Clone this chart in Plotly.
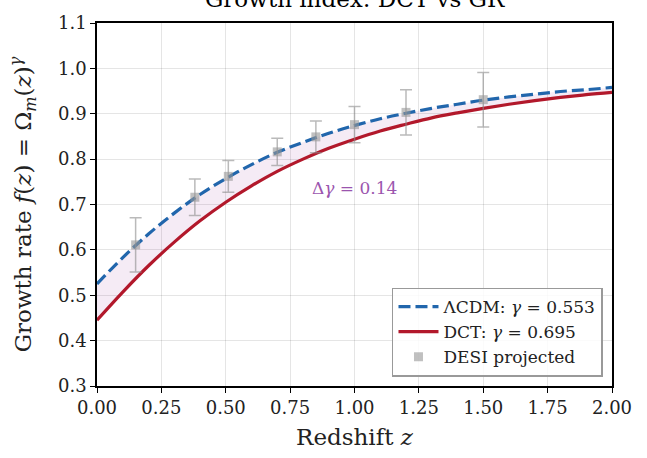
import plotly.graph_objects as go

# Redshift grid along the curves
z_curve = [0.0, 0.1, 0.2, 0.3, 0.4, 0.5, 0.6, 0.7, 0.8, 0.9, 1.0,
           1.1, 1.2, 1.3, 1.4, 1.5, 1.6, 1.7, 1.8, 1.9, 2.0]
# LambdaCDM growth rate, gamma = 0.553
f_lcdm = [0.525, 0.583, 0.635, 0.681, 0.722, 0.757, 0.788, 0.815, 0.837, 0.857, 0.874,
          0.889, 0.901, 0.912, 0.921, 0.930, 0.937, 0.943, 0.949, 0.953, 0.958]
# DCT growth rate, gamma = 0.695
f_dct = [0.445, 0.507, 0.565, 0.617, 0.664, 0.705, 0.741, 0.773, 0.800, 0.824, 0.844,
         0.862, 0.877, 0.891, 0.902, 0.912, 0.921, 0.929, 0.936, 0.942, 0.947]

# DESI projected measurements
z_desi = [0.15, 0.38, 0.51, 0.70, 0.85, 1.00, 1.20, 1.50]
f_desi = [0.611, 0.716, 0.762, 0.816, 0.849, 0.876, 0.903, 0.931]
err_desi = [0.060, 0.040, 0.035, 0.030, 0.035, 0.040, 0.050, 0.060]

x_ticks = [0.0, 0.25, 0.5, 0.75, 1.0, 1.25, 1.5, 1.75, 2.0]
y_ticks = [0.3, 0.4, 0.5, 0.6, 0.7, 0.8, 0.9, 1.0, 1.1]

BLUE = "#2166ac"
RED = "#b2182b"
FONT = "DejaVu Serif"

fig = go.Figure()

# shaded band between the two curves
fig.add_trace(go.Scatter(x=z_curve, y=f_lcdm, mode="lines", line=dict(width=0, shape="spline"),
                         showlegend=False, hoverinfo="skip"))
fig.add_trace(go.Scatter(x=z_curve, y=f_dct, mode="lines", line=dict(width=0, shape="spline"),
                         fill="tonexty", fillcolor="rgba(128,0,128,0.08)",
                         showlegend=False, hoverinfo="skip"))

fig.add_trace(go.Scatter(x=z_curve, y=f_lcdm, mode="lines",
                         line=dict(color=BLUE, width=3.2, dash="12px,5px", shape="spline"),
                         name="ΛCDM: <i>γ</i> = 0.553"))
fig.add_trace(go.Scatter(x=z_curve, y=f_dct, mode="lines",
                         line=dict(color=RED, width=3.2, shape="spline"),
                         name="DCT: <i>γ</i> = 0.695"))
fig.add_trace(go.Scatter(x=z_desi, y=f_desi, mode="markers",
                         marker=dict(symbol="square", size=9, color="rgba(150,150,150,0.6)",
                                     line=dict(width=0)),
                         error_y=dict(type="data", array=err_desi, visible=True,
                                      color="rgba(140,140,140,0.6)", thickness=1.5, width=6),
                         name="DESI projected"))

fig.add_annotation(x=1.0, y=0.737, xref="x", yref="y", text="Δ<i>γ</i> = 0.14",
                   showarrow=False, font=dict(family=FONT, size=17, color="#9b55ae"))

# title, partly cut off at the top like the reference
fig.add_annotation(x=0.5, y=1.0, xref="paper", yref="paper", yanchor="bottom",
                   yshift=9, text="Growth index: DCT vs GR", showarrow=False,
                   font=dict(family=FONT, size=23, color="black"))

axis_common = dict(showline=True, linecolor="black", linewidth=1.5, mirror=True,
                   ticks="outside", ticklen=5, tickwidth=1.3, tickcolor="black",
                   showgrid=True, gridcolor="rgba(0,0,0,0.1)", gridwidth=1,
                   zeroline=False, tickfont=dict(family=FONT, size=18, color="#222"))

fig.update_xaxes(range=[0, 2], tickvals=x_ticks, tickformat=".2f",
                 title=dict(text="Redshift <i>z</i>", font=dict(family=FONT, size=23, color="#222"),
                            standoff=12),
                 **axis_common)
fig.update_yaxes(range=[0.3, 1.1], tickvals=y_ticks, tickformat=".1f",
                 title=dict(text="Growth rate <i>f</i>(<i>z</i>) = Ω<sub><i>m</i></sub>(<i>z</i>)<sup><i>γ</i></sup>",
                            font=dict(family=FONT, size=23, color="#222"), standoff=20),
                 **axis_common)

fig.update_layout(
    width=647, height=458,
    margin=dict(l=97, r=35, t=17, b=69),
    plot_bgcolor="white", paper_bgcolor="white",
    font=dict(family=FONT),
    legend=dict(x=0.9825, y=0.026, xanchor="right", yanchor="bottom",
                traceorder="normal",
                bgcolor="rgba(255,255,255,0.85)", bordercolor="#999", borderwidth=1.5,
                font=dict(family=FONT, size=17, color="#222"),
                itemwidth=40, tracegroupgap=2),
    showlegend=True,
)

fig.write_html("out.html")
